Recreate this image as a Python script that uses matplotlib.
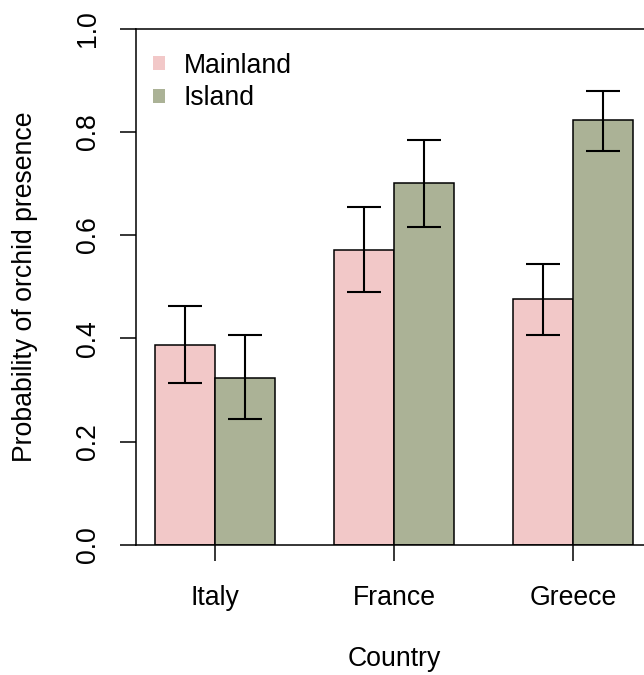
import numpy as np
import matplotlib
matplotlib.use("Agg")
import matplotlib.pyplot as plt
from matplotlib.patches import Patch

plt.rcParams['font.family'] = ['Liberation Sans', 'DejaVu Sans']

countries = ["Italy", "France", "Greece"]
groups = ["Mainland", "Island"]
mainland = [0.387, 0.571, 0.476]
mainland_lo = [0.313, 0.489, 0.407]
mainland_hi = [0.462, 0.654, 0.545]
island = [0.324, 0.701, 0.822]
island_lo = [0.243, 0.615, 0.763]
island_hi = [0.406, 0.785, 0.879]

pink = "#F2C8C8"
green = "#ABB296"

W, H = 644, 675
fig = plt.figure(figsize=(W / 100, H / 100), dpi=100)
# plot region in pixels: left axis at x=136, y from 545 (0) to 28.5 (1.0)
ax = fig.add_axes([136 / W, 130 / H, 1 - 136 / W, (545 - 28.5) / H])

# barplot layout: bar width 1, one bar gap between countries
centers = 1.32 + 3 * np.arange(len(countries))
fs = 19.2


def draw_group(x, vals, lo, hi, color):
    vals = np.array(vals)
    ax.bar(x, vals, width=1.0, color=color, edgecolor="black", linewidth=1.1, zorder=2)
    yerr = np.vstack([vals - np.array(lo), np.array(hi) - vals])
    ax.errorbar(x, vals, yerr=yerr, fmt="none", ecolor="black", elinewidth=1.5,
                capsize=11.9, capthick=1.5, zorder=3)


draw_group(centers - 0.5, mainland, mainland_lo, mainland_hi, pink)
draw_group(centers + 0.5, island, island_lo, island_hi, green)

ax.set_xlim(0, 508 / 59.7)
ax.set_ylim(0, 1.0)

for side in ["top", "bottom", "left"]:
    ax.spines[side].set_linewidth(1.1)
ax.spines["right"].set_visible(False)

yt = np.arange(0, 1.01, 0.2)
ax.set_yticks(yt)
ax.set_yticklabels(["%.1f" % v for v in yt], rotation=90, va="center", fontsize=fs)
ax.tick_params(axis="y", length=11.5, width=1.1, pad=14)

ax.set_xticks(centers)
ax.set_xticklabels(countries, fontsize=fs)
ax.tick_params(axis="x", length=11.5, width=1.1, pad=17)

fig.text(25 / W, 1 - (545 + 28.5) / 2 / H, "Probability of orchid presence",
         rotation=90, ha="center", va="center", fontsize=fs)
fig.text(394 / W, 9 / H, "Country", ha="center", va="baseline", fontsize=fs)

handles = [Patch(facecolor=pink, edgecolor="none"), Patch(facecolor=green, edgecolor="none")]
ax.legend(handles, groups, loc="upper left", bbox_to_anchor=(0.034, 0.953),
          frameon=False, fontsize=fs, borderpad=0, borderaxespad=0,
          handlelength=0.45, handleheight=0.45, handletextpad=0.7, labelspacing=0.24)

fig.savefig("out.png", dpi=100)
